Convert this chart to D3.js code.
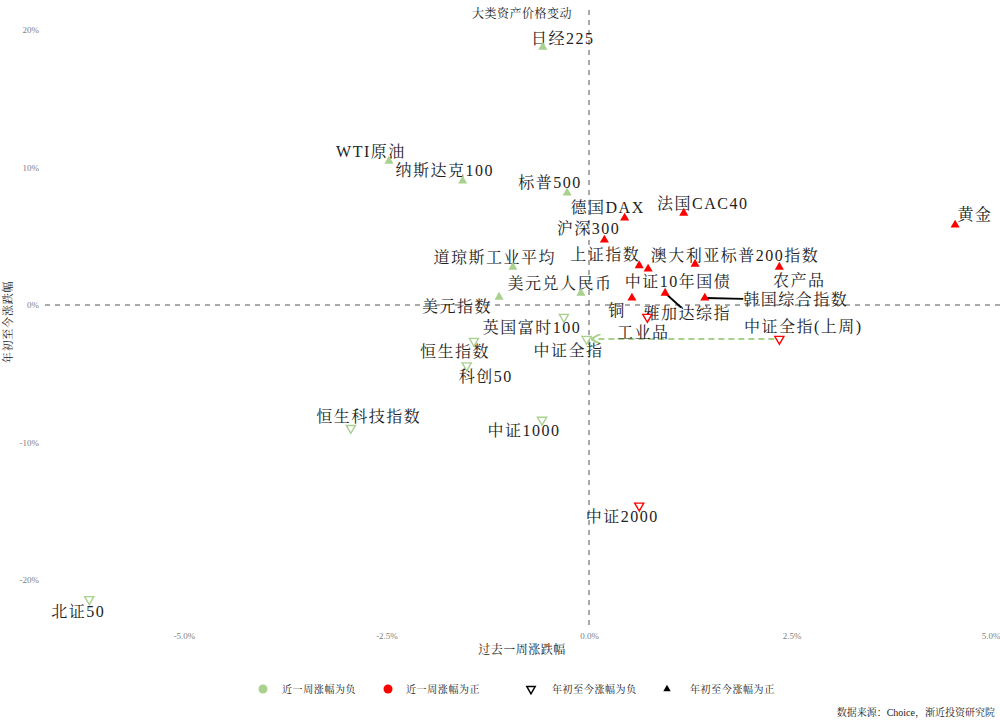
<!DOCTYPE html>
<html>
<head>
<meta charset="utf-8">
<script src="https://cdn.jsdelivr.net/npm/d3@7/dist/d3.min.js"></script>
<style>
  html, body { margin: 0; padding: 0; background: #fff; }
  svg { display: block; }
  .lbl { font-family: "Liberation Serif", "Noto Serif CJK SC", "Noto Sans CJK SC", serif; }
</style>
</head>
<body>
<svg id="chart" width="1000" height="722"></svg>
<script>
// ---------------- data ----------------
const names = ["日经225","WTI原油","纳斯达克100","标普500","德国DAX","法国CAC40","黄金","沪深300",
  "道琼斯工业平均","上证指数","中证10年国债","澳大利亚标普200指数","农产品","美元兑人民币","美元指数",
  "铜","雅加达综指","韩国综合指数","英国富时100","工业品","中证全指","中证全指(上周)","恒生指数",
  "科创50","恒生科技指数","中证1000","中证2000","北证50"];
// past-week change (%)
const weekChg = [-0.57,-2.47,-1.56,-0.27,0.44,1.17,4.52,0.19,
  -0.94,0.62,0.73,1.31,2.35,-0.10,-1.11,
  0.53,0.94,1.43,-0.31,0.72,-0.03,2.35,-1.42,
  -1.51,-2.94,-0.58,0.62,-6.17];
// year-to-date change (%)
const ytdChg = [18.76,10.47,9.02,8.15,6.33,6.69,5.82,4.73,
  2.76,2.87,2.62,2.98,2.76,0.87,0.58,
  0.51,0.87,0.51,-0.87,-0.87,-2.47,-2.47,-2.62,
  -4.40,-8.95,-8.36,-14.60,-21.40];
const xTicks = [-5, -2.5, 0, 2.5, 5];
const xTickLabels = ["-5.0%","-2.5%","0.0%","2.5%","5.0%"];
const yTicks = [-20, -10, 0, 10, 20];
const yTickLabels = ["-20%","-10%","0%","10%","20%"];
const legendLabels = ["近一周涨幅为负","近一周涨幅为正","年初至今涨幅为负","年初至今涨幅为正"];
const titleText = "大类资产价格变动";
const xTitle = "过去一周涨跌幅";
const yTitle = "年初至今涨跌幅";
const sourceText = "数据来源：Choice，渐近投资研究院";
const arrowFrom = "中证全指(上周)", arrowTo = "中证全指";

// ---------------- layout (label offsets in px, like a repel result) ----------------
const labelOffsets = {
  "日经225":[20,-9],"WTI原油":[-18,-10],"纳斯达克100":[-18,-10],"标普500":[-17,-10],
  "德国DAX":[-17,-10],"法国CAC40":[19,-10],"黄金":[20,-10],"沪深300":[-16,-11],
  "道琼斯工业平均":[-18,-10],"上证指数":[-34,-11],"中证10年国债":[30,13],"澳大利亚标普200指数":[40,-9],
  "农产品":[20,13],"美元兑人民币":[-21,-10],"美元指数":[-42,9],"铜":[-15,13],
  "雅加达综指":[22,20],"韩国综合指数":[91,2],"英国富时100":[-32,11],"工业品":[-4,16],
  "中证全指":[-18,12],"中证全指(上周)":[24,-12],"恒生指数":[-19,10],"科创50":[19,11],
  "恒生科技指数":[18,-12],"中证1000":[-18,11],"中证2000":[-17,11],"北证50":[-11,12]
};
const leaderNames = ["雅加达综指","韩国综合指数"];

const GREEN = "#a9d18e", RED = "#ff0000";
const data = names.map((n,i)=>({name:n, x:weekChg[i], y:ytdChg[i]}));

const svg = d3.select("#chart");
const x = d3.scaleLinear().domain([-5,5]).range([184,994]);
const y = d3.scaleLinear().domain([-20,20]).range([580,30]);

// reference lines
svg.append("line").attr("x1",x(0)).attr("x2",x(0)).attr("y1",10).attr("y2",626)
  .attr("stroke","#555").attr("stroke-width",1).attr("stroke-dasharray","5,5");
svg.append("line").attr("x1",45).attr("x2",1000).attr("y1",y(0)).attr("y2",y(0))
  .attr("stroke","#555").attr("stroke-width",1).attr("stroke-dasharray","5,5");

// axes
const xAxis = d3.axisBottom(x).tickValues(xTicks).tickFormat((d,i)=>xTickLabels[i]).tickSize(0).tickPadding(5);
const gx = svg.append("g").attr("transform","translate(0,628)").call(xAxis);
const yAxis = d3.axisLeft(y).tickValues(yTicks).tickFormat((d,i)=>yTickLabels[i]).tickSize(0).tickPadding(4);
const gy = svg.append("g").attr("transform","translate(43,0)").call(yAxis);
[gx,gy].forEach(g=>{
  g.select(".domain").remove();
  g.selectAll("text").attr("fill","#808080").attr("font-size",9)
    .attr("font-family","'Liberation Serif', serif");
});
// keep the last x tick label inside the canvas
gx.selectAll(".tick text").filter(d=>d===5).attr("text-anchor","end").attr("x",6);

// titles
svg.append("text").attr("class","lbl").attr("x",522).attr("y",18).attr("text-anchor","middle")
  .attr("font-size",12).attr("letter-spacing",0.5).attr("fill","#222").text(titleText);
svg.append("text").attr("class","lbl").attr("x",522).attr("y",654).attr("text-anchor","middle")
  .attr("font-size",12).attr("letter-spacing",0.5).attr("fill","#222").text(xTitle);
svg.append("text").attr("class","lbl").attr("transform","translate(12,322) rotate(-90)")
  .attr("text-anchor","middle").attr("font-size",11).attr("letter-spacing",0.8).attr("fill","#222").text(yTitle);

// arrow (previous week -> current)
const defs = svg.append("defs");
defs.append("marker").attr("id","arr").attr("viewBox","0 0 10 10").attr("refX",9).attr("refY",5)
  .attr("markerWidth",5).attr("markerHeight",5).attr("orient","auto")
  .append("path").attr("d","M0,0 L10,5 L0,10").attr("fill","none").attr("stroke",GREEN).attr("stroke-width",2);
const pFrom = data.find(d=>d.name===arrowFrom), pTo = data.find(d=>d.name===arrowTo);
svg.append("line").attr("x1",x(pFrom.x)-5).attr("y1",y(pFrom.y)).attr("x2",x(pTo.x)+5).attr("y2",y(pTo.y))
  .attr("stroke",GREEN).attr("stroke-width",2).attr("stroke-dasharray","6,4").attr("marker-end","url(#arr)");

// labels with leader lines
const labelG = svg.append("g");
data.forEach(d=>{
  const off = labelOffsets[d.name];
  const px = x(d.x), py = y(d.y);
  const t = labelG.append("text").attr("class","lbl")
    .attr("x",px+off[0]).attr("y",py+off[1]).attr("text-anchor","middle").attr("dominant-baseline","central")
    .attr("font-size",16).attr("letter-spacing",1.5).attr("fill","#222").text(d.name);
  if (leaderNames.includes(d.name)) {
    const b = t.node().getBBox();
    const cx = b.x+b.width/2, cy = b.y+b.height/2;
    const dx = cx-px, dy = cy-py;
    let tt = 1;
    if (dx!==0) tt = Math.min(tt, Math.abs((b.width/2)/dx));
    if (dy!==0) tt = Math.min(tt, Math.abs((b.height/2 - 3)/dy));
    const ex = cx - dx*tt, ey = cy - dy*tt;
    svg.append("line").attr("x1",px).attr("y1",py).attr("x2",ex).attr("y2",ey)
      .attr("stroke","#000").attr("stroke-width",1.8);
  }
});

// points
const tri = d3.symbol().type(d3.symbolTriangle).size(36);
svg.append("g").selectAll("path").data(data).join("path")
  .attr("d", tri)
  .attr("transform", d=> `translate(${x(d.x)},${y(d.y)})` + (d.y<0 ? " rotate(180)" : ""))
  .attr("fill", d=> d.y<0 ? "#fff" : (d.x<0 ? GREEN : RED))
  .attr("stroke", d=> d.x<0 ? GREEN : RED)
  .attr("stroke-width", d=> d.y<0 ? 1.4 : 0);

// legend
const lg = svg.append("g").attr("class","lbl");
const legY = 689;
const legItems = [
  {sx:263, tx:282, kind:"circle", color:GREEN},
  {sx:388, tx:406, kind:"circle", color:RED},
  {sx:531, tx:552, kind:"down", color:"#000"},
  {sx:667, tx:690, kind:"up", color:"#000"}
];
legItems.forEach((it,i)=>{
  if (it.kind==="circle") {
    lg.append("circle").attr("cx",it.sx).attr("cy",legY).attr("r",4.5).attr("fill",it.color);
  } else {
    lg.append("path").attr("d",d3.symbol().type(d3.symbolTriangle).size(it.kind==="down"?30:24)())
      .attr("transform",`translate(${it.sx},${legY})`+(it.kind==="down"?" rotate(180)":""))
      .attr("fill",it.kind==="down"?"#fff":"#000").attr("stroke","#000").attr("stroke-width",it.kind==="down"?1.5:0);
  }
  lg.append("text").attr("x",it.tx).attr("y",legY).attr("dominant-baseline","central")
    .attr("font-size",10).attr("letter-spacing",0.6).attr("fill","#222").text(legendLabels[i]);
});

// source
svg.append("text").attr("class","lbl").attr("x",995).attr("y",716).attr("text-anchor","end")
  .attr("font-size",10).attr("fill","#222").text(sourceText);
</script>
</body>
</html>
